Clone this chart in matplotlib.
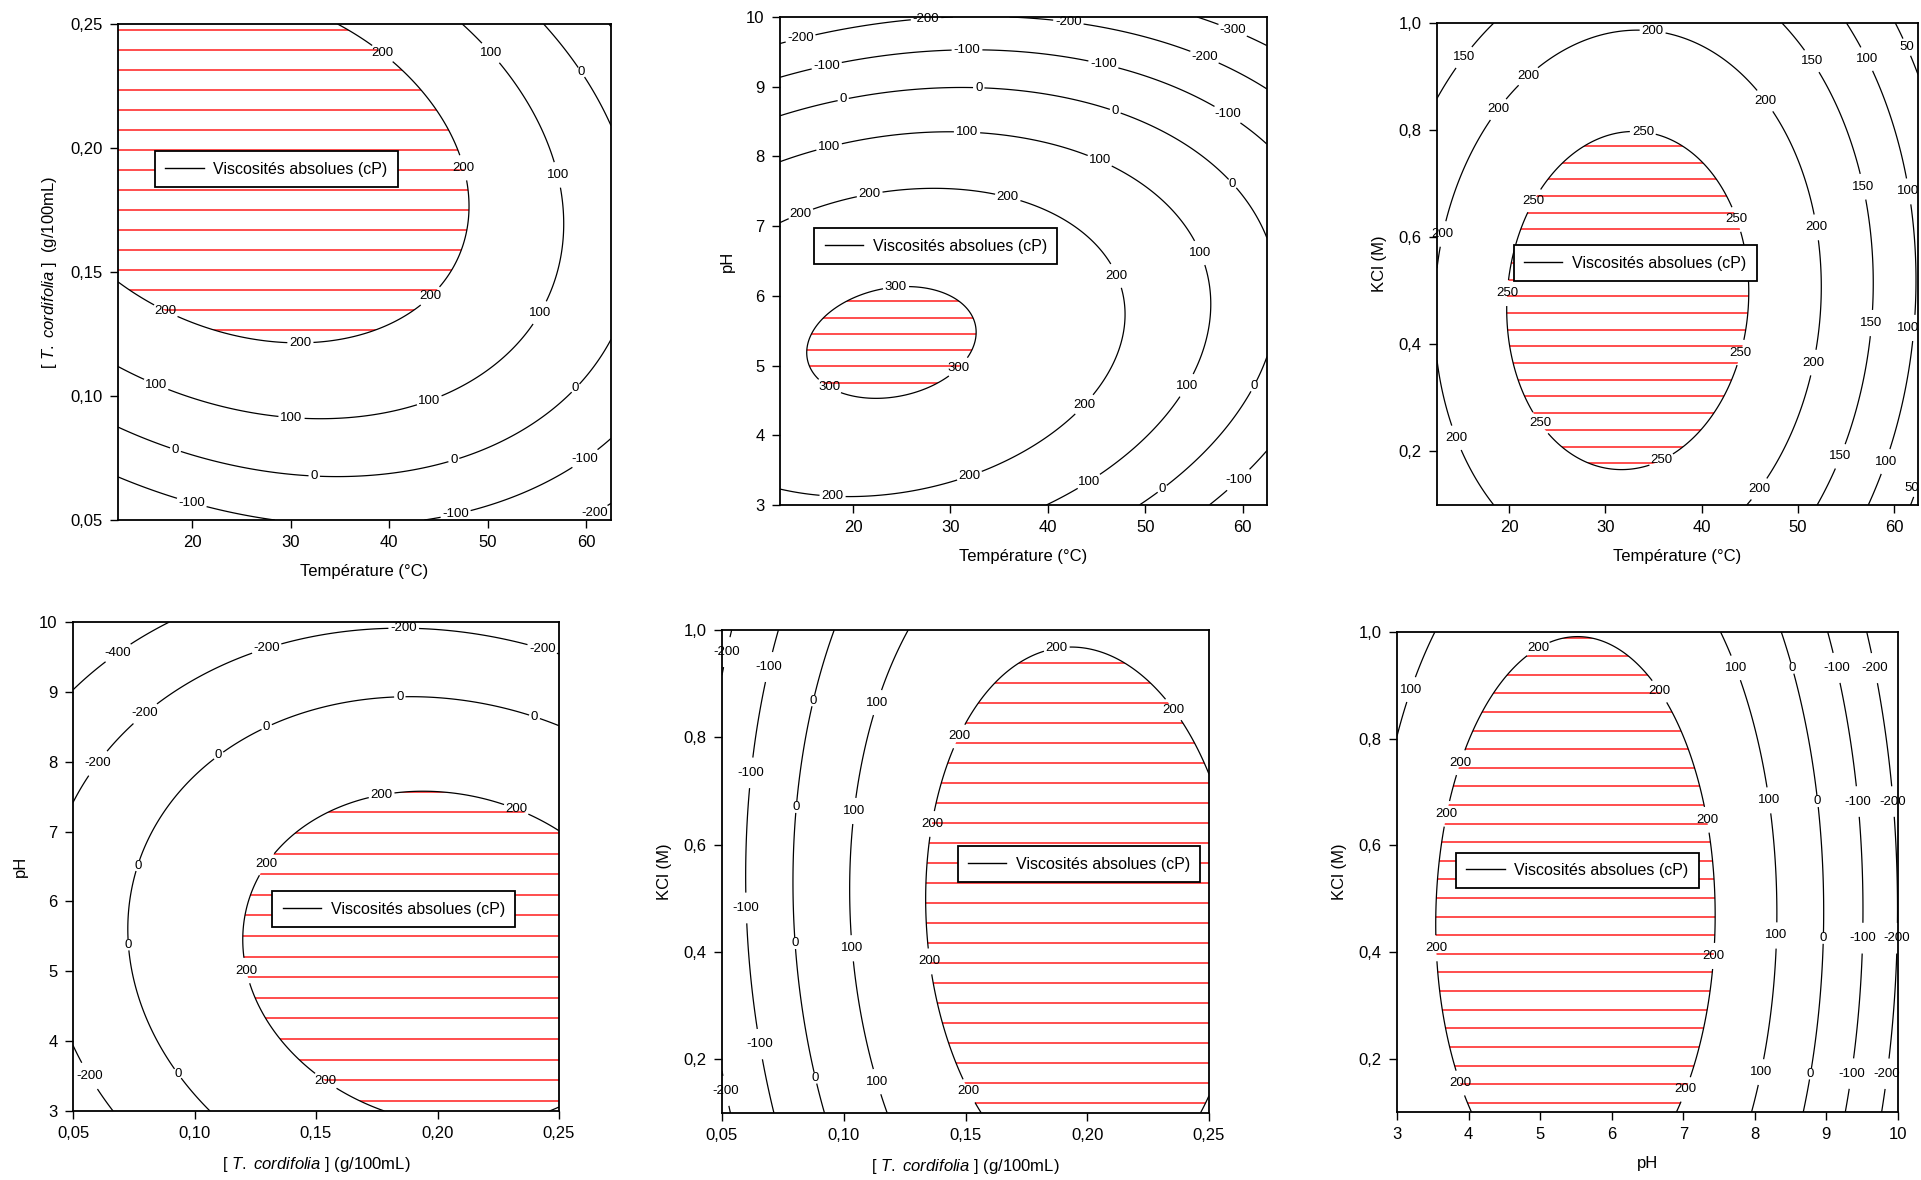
import numpy as np
import matplotlib
matplotlib.use("Agg")
import matplotlib.pyplot as plt
from matplotlib.lines import Line2D

plt.rcParams['font.family'] = ['Liberation Sans', 'DejaVu Sans']
plt.rcParams['mathtext.fontset'] = 'custom'
plt.rcParams['mathtext.rm'] = 'Liberation Sans'
plt.rcParams['mathtext.it'] = 'Liberation Sans:italic'

# ---------------- data ----------------
temp_range = (12.5, 62.5)
conc_range = (0.05, 0.25)
ph_range = (3.0, 10.0)
kcl_range = (0.1, 1.0)

temp_ticks = [20, 30, 40, 50, 60]
temp_labels = ['20', '30', '40', '50', '60']
conc_ticks = [0.05, 0.10, 0.15, 0.20, 0.25]
conc_labels = ['0,05', '0,10', '0,15', '0,20', '0,25']
ph_ticks = [3, 4, 5, 6, 7, 8, 9, 10]
ph_labels = ['3', '4', '5', '6', '7', '8', '9', '10']
kcl_ticks = [0.2, 0.4, 0.6, 0.8, 1.0]
kcl_labels = ['0,2', '0,4', '0,6', '0,8', '1,0']

legend_text = 'Viscosités absolues (cP)'
temp_title = 'Température (°C)'
conc_title_y = r'[ $\mathit{T.\ cordifolia}$ ]  (g/100mL)'
conc_title_x = r'[ $\mathit{T.\ cordifolia}$ ] (g/100mL)'
ph_title = 'pH'
kcl_title = 'KCl (M)'

# contour levels and hatched (upper) level per panel
p1_levels = [-200, -100, 0, 100, 200]
p2_levels = [-300, -200, -100, 0, 100, 200, 300]
p3_levels = [50, 100, 150, 200, 250]
p4_levels = [-400, -200, 0, 200]
p5_levels = [-200, -100, 0, 100, 200]
p6_levels = [-200, -100, 0, 100, 200]

# points: (x, y, viscosity level)
p1_points = [
    (34.9, 0.250, 200), (41.9, 0.228, 200), (46.0, 0.209, 200), (48.3, 0.178, 200), (47.9, 0.163, 200),
    (45.6, 0.145, 200), (40.3, 0.129, 200), (31.0, 0.121, 200), (23.7, 0.126, 200), (12.6, 0.145, 200),
    (47.5, 0.250, 100), (51.4, 0.233, 100), (56.0, 0.200, 100), (57.8, 0.171, 100), (56.0, 0.134, 100),
    (50.2, 0.109, 100), (44.0, 0.099, 100), (33.6, 0.091, 100), (23.7, 0.099, 100), (12.6, 0.111, 100),
    (55.8, 0.250, 0), (59.3, 0.230, 0), (62.5, 0.209, 0), (62.5, 0.123, 0), (58.7, 0.104, 0),
    (46.5, 0.075, 0), (32.4, 0.068, 0), (18.3, 0.078, 0), (12.6, 0.087, 0),
    (12.6, 0.067, -100), (20.0, 0.057, -100), (27.2, 0.050, -100), (44.0, 0.050, -100),
    (53.9, 0.060, -100), (62.5, 0.083, -100), (60.7, 0.0535, -200),
]
p2_points = [
    (25.85, 6.11, 300), (32.7, 5.49, 300), (29.0, 4.78, 300), (20.8, 4.54, 300), (17.5, 4.68, 300),
    (15.0, 5.19, 300), (17.9, 5.81, 300),
    (12.6, 7.08, 200), (21.7, 7.46, 200), (28.8, 7.53, 200), (35.9, 7.42, 200), (42.1, 7.05, 200),
    (46.9, 6.28, 200), (48.0, 5.49, 200), (46.3, 4.78, 200), (43.8, 4.46, 200), (38.4, 3.86, 200),
    (31.9, 3.44, 200), (18.3, 3.14, 200), (12.6, 3.22, 200),
    (12.6, 7.95, 100), (17.5, 8.16, 100), (31.7, 8.34, 100), (45.3, 7.93, 100), (52.6, 7.38, 100),
    (55.5, 6.61, 100), (56.7, 5.92, 100), (54.2, 4.72, 100), (49.6, 3.86, 100), (44.2, 3.34, 100),
    (39.8, 3.00, 100),
    (12.6, 8.57, 0), (19.0, 8.81, 0), (32.9, 8.97, 0), (46.7, 8.64, 0), (54.7, 8.14, 0),
    (58.8, 7.59, 0), (62.5, 6.84, 0), (62.5, 5.11, 0), (60.9, 4.72, 0), (51.7, 3.24, 0), (49.4, 3.00, 0),
    (12.6, 9.14, -100), (17.5, 9.30, -100), (31.7, 9.52, -100), (45.7, 9.32, -100), (58.4, 8.59, -100),
    (62.5, 8.16, -100), (62.5, 3.78, -100), (59.7, 3.37, -100), (56.7, 3.00, -100),
    (12.6, 9.61, -200), (14.6, 9.70, -200), (27.5, 10.0, -200), (38.0, 10.0, -200), (42.5, 9.91, -200),
    (56.1, 9.43, -200), (62.5, 8.97, -200),
    (55.5, 10.0, -300), (59.0, 9.82, -300), (62.5, 9.59, -300),
]
p3_points = [
    (31.5, 0.794, 250), (37.9, 0.774, 250), (43.0, 0.656, 250), (44.65, 0.593, 250), (45.0, 0.480, 250),
    (44.0, 0.385, 250), (40.8, 0.254, 250), (35.35, 0.184, 250), (31.5, 0.166, 250), (25.2, 0.212, 250),
    (21.8, 0.283, 250), (19.9, 0.410, 250), (20.1, 0.494, 250), (21.0, 0.600, 250), (22.5, 0.671, 250),
    (26.0, 0.748, 250),
    (33.7, 0.982, 200), (26.0, 0.960, 200), (21.8, 0.896, 200), (18.4, 0.836, 200), (15.05, 0.734, 200),
    (12.9, 0.607, 200), (12.8, 0.339, 200), (14.6, 0.226, 200), (18.4, 0.103, 200), (36.6, 0.977, 200),
    (43.0, 0.917, 200), (46.8, 0.854, 200), (49.7, 0.762, 200), (51.8, 0.618, 200), (52.5, 0.480, 200),
    (51.4, 0.364, 200), (49.3, 0.247, 200), (45.9, 0.131, 200), (45.1, 0.103, 200),
    (18.4, 1.000, 150), (15.5, 0.935, 150), (12.9, 0.861, 150), (48.5, 1.000, 150), (51.4, 0.928, 150),
    (54.8, 0.833, 150), (56.5, 0.692, 150), (58.0, 0.522, 150), (57.5, 0.438, 150), (56.5, 0.268, 150),
    (54.4, 0.191, 150), (52.05, 0.103, 150),
    (55.0, 1.000, 100), (57.1, 0.932, 100), (59.9, 0.826, 100), (61.1, 0.685, 100), (62.2, 0.537, 100),
    (62.2, 0.431, 100), (59.0, 0.184, 100), (57.5, 0.103, 100),
    (60.3, 1.000, 50), (61.4, 0.953, 50), (62.5, 0.903, 50), (62.5, 0.134, 50),
]
p4_points = [
    (0.176, 3.00, 200), (0.1576, 3.36, 200), (0.1408, 3.87, 200), (0.1273, 4.49, 200), (0.1206, 5.14, 200),
    (0.1206, 5.84, 200), (0.1256, 6.38, 200), (0.134, 6.76, 200), (0.1508, 7.24, 200), (0.176, 7.54, 200),
    (0.1996, 7.58, 200), (0.2282, 7.32, 200), (0.250, 7.05, 200),
    (0.106, 3.00, 0), (0.0937, 3.52, 0), (0.0819, 4.28, 0), (0.0735, 5.36, 0), (0.0735, 6.16, 0),
    (0.0769, 6.54, 0), (0.092, 7.46, 0), (0.1097, 8.10, 0), (0.129, 8.48, 0), (0.1542, 8.78, 0),
    (0.1836, 8.91, 0), (0.2046, 8.90, 0), (0.2399, 8.64, 0), (0.250, 8.53, 0),
    (0.050, 7.40, -200), (0.0601, 7.97, -200), (0.0786, 8.70, -200), (0.1004, 9.21, -200),
    (0.1298, 9.61, -200), (0.1542, 9.80, -200), (0.1861, 9.92, -200), (0.2046, 9.91, -200),
    (0.2399, 9.64, -200), (0.250, 9.53, -200), (0.050, 3.98, -200), (0.055, 3.50, -200), (0.0668, 3.00, -200),
    (0.050, 9.01, -400), (0.0685, 9.56, -400), (0.0895, 10.0, -400),
]
p5_points = [
    (0.1942, 0.9645, 200), (0.1707, 0.931, 200), (0.1556, 0.865, 200), (0.1456, 0.788, 200),
    (0.1389, 0.698, 200), (0.1355, 0.618, 200), (0.1338, 0.517, 200), (0.1347, 0.405, 200),
    (0.138, 0.308, 200), (0.1447, 0.203, 200), (0.1556, 0.099, 200), (0.216, 0.931, 200),
    (0.2344, 0.861, 200), (0.250, 0.736, 200),
    (0.1263, 1.000, 100), (0.1154, 0.886, 100), (0.107, 0.781, 100), (0.1036, 0.663, 100),
    (0.1028, 0.517, 100), (0.1036, 0.405, 100), (0.1087, 0.294, 100), (0.1137, 0.169, 100), (0.1179, 0.099, 100),
    (0.0961, 1.000, 0), (0.0877, 0.868, 0), (0.081, 0.726, 0), (0.0798, 0.586, 0), (0.0798, 0.419, 0),
    (0.0835, 0.273, 0), (0.0882, 0.165, 0), (0.0927, 0.099, 0),
    (0.0726, 1.000, -100), (0.0668, 0.865, -100), (0.0617, 0.733, -100), (0.0601, 0.586, -100),
    (0.0604, 0.482, -100), (0.0626, 0.308, -100), (0.0651, 0.228, -100), (0.071, 0.099, -100),
    (0.0542, 1.000, -200), (0.0508, 0.928, -200), (0.0508, 0.158, -200), (0.0534, 0.099, -200),
]
p6_points = [
    (5.58, 0.9845, 200), (4.78, 0.956, 200), (4.44, 0.914, 200), (4.10, 0.837, 200), (3.84, 0.756, 200),
    (3.67, 0.657, 200), (3.59, 0.517, 200), (3.56, 0.404, 200), (3.62, 0.291, 200), (3.76, 0.200, 200),
    (3.99, 0.105, 200), (6.27, 0.949, 200), (6.84, 0.854, 200), (7.18, 0.756, 200), (7.32, 0.657, 200),
    (7.41, 0.545, 200), (7.44, 0.446, 200), (7.38, 0.348, 200), (7.24, 0.249, 200), (6.92, 0.108, 200),
    (3.56, 1.000, 100), (3.22, 0.893, 100), (3.02, 0.800, 100), (7.49, 1.000, 100), (7.83, 0.925, 100),
    (8.09, 0.784, 100), (8.21, 0.685, 100), (8.29, 0.432, 100), (8.18, 0.305, 100), (8.06, 0.175, 100),
    (7.98, 0.101, 100),
    (8.38, 1.000, 0), (8.52, 0.932, 0), (8.78, 0.784, 0), (8.86, 0.682, 0), (8.95, 0.425, 0),
    (8.78, 0.175, 0), (8.66, 0.101, 0),
    (9.00, 1.000, -100), (9.12, 0.932, -100), (9.35, 0.784, -100), (9.46, 0.682, -100), (9.54, 0.425, -100),
    (9.35, 0.172, -100), (9.26, 0.101, -100),
    (9.57, 1.000, -200), (9.66, 0.932, -200), (9.92, 0.682, -200), (9.98, 0.552, -200), (9.98, 0.425, -200),
    (9.86, 0.172, -200), (9.80, 0.101, -200),
]

# ---------------- placement (style) ----------------
p1_label_pos = [(39.3, 0.238), (50.2, 0.238), (59.3, 0.230), (47.5, 0.192), (56.9, 0.189), (44.0, 0.141),
                (55.1, 0.134), (17.3, 0.134), (31.0, 0.121), (16.3, 0.104), (44.0, 0.099), (58.7, 0.104),
                (30.1, 0.0914), (18.3, 0.078), (46.5, 0.075), (32.4, 0.0677), (59.7, 0.0757), (20.0, 0.0573),
                (46.7, 0.0532), (60.7, 0.0535)]
p2_label_pos = [(27.5, 9.97), (42.1, 9.92), (59.0, 9.82), (14.6, 9.70), (31.7, 9.52), (56.1, 9.43), (17.3, 9.30),
                (45.7, 9.32), (19.0, 8.81), (32.9, 8.97), (46.9, 8.64), (58.4, 8.59), (17.5, 8.16), (31.7, 8.34),
                (45.3, 7.93), (58.8, 7.59), (21.7, 7.46), (35.9, 7.42), (14.6, 7.19), (55.5, 6.61), (46.9, 6.28),
                (24.4, 6.14), (30.6, 5.01), (17.5, 4.68), (54.2, 4.72), (60.9, 4.72), (43.6, 4.46), (31.9, 3.44),
                (44.2, 3.34), (51.7, 3.24), (59.5, 3.37), (17.9, 3.14)]
p3_label_pos = [(34.9, 0.982), (15.35, 0.935), (61.1, 0.953), (51.4, 0.928), (57.1, 0.932), (22.0, 0.900),
                (46.55, 0.854), (18.9, 0.838), (33.9, 0.796), (56.7, 0.694), (61.35, 0.685), (22.5, 0.669),
                (43.6, 0.633), (51.8, 0.618), (13.15, 0.606), (19.7, 0.496), (57.5, 0.440), (61.8, 0.431),
                (44.0, 0.385), (51.6, 0.366), (23.3, 0.254), (14.6, 0.226), (35.8, 0.185), (54.4, 0.191),
                (59.0, 0.182), (45.9, 0.131), (62.0, 0.134)]
p4_label_pos = [(0.0685, 9.56), (0.1298, 9.61), (0.1861, 9.92), (0.2433, 9.64), (0.1845, 8.92), (0.2399, 8.64),
                (0.0794, 8.70), (0.1298, 8.49), (0.0601, 7.98), (0.1097, 8.10), (0.1769, 7.54), (0.2324, 7.32),
                (0.1293, 6.54), (0.0769, 6.51), (0.0727, 5.38), (0.1214, 5.01), (0.0567, 3.50), (0.0937, 3.55),
                (0.1542, 3.44)]
p5_label_pos = [(0.0517, 0.959), (0.0693, 0.931), (0.0877, 0.868), (0.1137, 0.865), (0.1875, 0.964),
                (0.2352, 0.851), (0.1472, 0.802), (0.0617, 0.734), (0.0798, 0.670), (0.104, 0.663),
                (0.1358, 0.639), (0.0597, 0.482), (0.0798, 0.416), (0.1036, 0.407), (0.1347, 0.382),
                (0.0651, 0.228), (0.0882, 0.165), (0.1134, 0.158), (0.1514, 0.141), (0.0513, 0.141)]
p6_label_pos = [(3.22, 0.891), (4.98, 0.967), (6.64, 0.886), (7.72, 0.932), (8.52, 0.932), (9.12, 0.932),
                (9.66, 0.932), (3.91, 0.754), (3.70, 0.659), (7.29, 0.647), (8.18, 0.684), (8.85, 0.682),
                (9.43, 0.682), (9.92, 0.682), (3.54, 0.407), (7.38, 0.393), (8.29, 0.431), (8.95, 0.426),
                (9.49, 0.426), (9.94, 0.426), (8.08, 0.175), (8.76, 0.172), (9.35, 0.172), (9.83, 0.172),
                (3.88, 0.154), (7.04, 0.142)]

W, H = 1921, 1180
fig = plt.figure(figsize=(W / 100, H / 100), dpi=100)
fig.patch.set_facecolor('white')
all_labels = []


def fit_surface(points, xlim, ylim):
    p = np.asarray(points, dtype=float)
    xc, xs = 0.5 * (xlim[0] + xlim[1]), 0.5 * (xlim[1] - xlim[0])
    yc, ys = 0.5 * (ylim[0] + ylim[1]), 0.5 * (ylim[1] - ylim[0])

    def basis(x, y):
        u = (np.asarray(x) - xc) / xs
        v = (np.asarray(y) - yc) / ys
        return np.stack([np.ones_like(u), u, v, u * u, v * v, u * v], axis=-1)

    coef, *_ = np.linalg.lstsq(basis(p[:, 0], p[:, 1]), p[:, 2], rcond=None)
    return lambda X, Y: basis(X, Y) @ coef


def draw_panel(rect, points, xlim, ylim, levels, hatch_level, hatch_px,
               xticks, xticklabels, yticks, yticklabels, xlabel, ylabel,
               label_pos, legend_center):
    x0, x1, y0, y1 = rect
    ax = fig.add_axes([x0 / W, 1 - y1 / H, (x1 - x0) / W, (y1 - y0) / H])
    f = fit_surface(points, xlim, ylim)
    gx = np.linspace(xlim[0], xlim[1], 320)
    gy = np.linspace(ylim[0], ylim[1], 320)
    X, Y = np.meshgrid(gx, gy)
    Z = f(X, Y)
    ax.set_xlim(xlim)
    ax.set_ylim(ylim)

    # red horizontal hatching inside the region above the top level
    cf = ax.contourf(X, Y, Z, levels=[hatch_level, max(Z.max(), hatch_level) + 1.0], colors='none')
    region = cf.get_paths()[0]
    step = hatch_px / (y1 - y0) * (ylim[1] - ylim[0])
    yv = np.arange(ylim[0] + 0.5 * step, ylim[1], step)
    hl = ax.hlines(yv, xlim[0], xlim[1], colors='#ff1c1c', linewidth=1.1, zorder=1.5)
    hl.set_clip_path(region, ax.transData)

    cs = ax.contour(X, Y, Z, levels=levels, colors='black', linewidths=0.9,
                    linestyles='solid', negative_linestyles='solid', zorder=2)
    texts = ax.clabel(cs, levels, fmt=lambda v: f'{v:.0f}', fontsize=9.5, inline=True,
                      inline_spacing=2, manual=label_pos)
    for t in texts:
        t.set_rotation(0)
        t.set_clip_on(False)
        all_labels.append((ax, t))

    ax.set_xticks(xticks, xticklabels)
    ax.set_yticks(yticks, yticklabels)
    ax.tick_params(direction='out', length=6, width=1.0, labelsize=12, pad=5,
                   top=False, right=False)
    for s in ax.spines.values():
        s.set_linewidth(1.3)
    ax.set_xlabel(xlabel, fontsize=12, labelpad=10)
    ax.set_ylabel(ylabel, fontsize=12, labelpad=8)

    leg = ax.legend([Line2D([], [], color='black', lw=1.0)], [legend_text],
                    loc='center', bbox_to_anchor=legend_center, frameon=True,
                    fancybox=False, framealpha=1, edgecolor='black', fontsize=11.5,
                    handlelength=2.4, handletextpad=0.6, borderpad=0.65)
    leg.get_frame().set_linewidth(1.3)
    return ax


draw_panel((118, 611, 24, 520), p1_points, temp_range, conc_range, p1_levels, 200, 20,
           temp_ticks, temp_labels, conc_ticks, conc_labels, temp_title, conc_title_y,
           p1_label_pos, (0.321, 0.707))
draw_panel((780, 1267, 17, 505), p2_points, temp_range, ph_range, p2_levels, 300, 16.3,
           temp_ticks, temp_labels, ph_ticks, ph_labels, temp_title, ph_title,
           p2_label_pos, (0.320, 0.530))
draw_panel((1437, 1918, 23, 505), p3_points, temp_range, kcl_range, p3_levels, 250, 16.7,
           temp_ticks, temp_labels, kcl_ticks, kcl_labels, temp_title, kcl_title,
           p3_label_pos, (0.412, 0.502))
draw_panel((73, 559, 622, 1111), p4_points, conc_range, ph_range, p4_levels, 200, 20.6,
           conc_ticks, conc_labels, ph_ticks, ph_labels, conc_title_x, ph_title,
           p4_label_pos, (0.660, 0.413))
draw_panel((722, 1209, 630, 1113), p5_points, conc_range, kcl_range, p5_levels, 200, 20,
           conc_ticks, conc_labels, kcl_ticks, kcl_labels, conc_title_x, kcl_title,
           p5_label_pos, (0.733, 0.515))
draw_panel((1397, 1898, 632, 1112), p6_points, ph_range, kcl_range, p6_levels, 200, 18.6,
           ph_ticks, ph_labels, kcl_ticks, kcl_labels, ph_title, kcl_title,
           p6_label_pos, (0.360, 0.503))

# keep contour labels inside the figure canvas
fig.canvas.draw()
renderer = fig.canvas.get_renderer()
for ax, t in all_labels:
    bb = t.get_window_extent(renderer)
    dx = 0.0
    if bb.x1 > W - 2:
        dx = (W - 2) - bb.x1
    elif bb.x0 < 2:
        dx = 2 - bb.x0
    if dx != 0.0:
        px, py = ax.transData.transform(t.get_position())
        t.set_position(ax.transData.inverted().transform((px + dx, py)))

fig.savefig('out.png', dpi=100, facecolor='white')
